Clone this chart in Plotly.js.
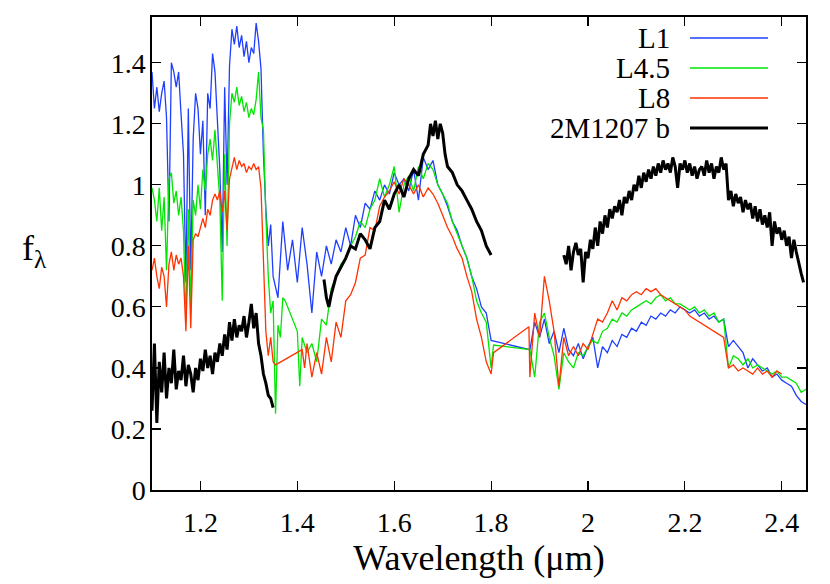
<!DOCTYPE html>
<html>
<head>
<meta charset="utf-8">
<script src="https://cdn.plot.ly/plotly-3.0.1.min.js"></script>
<style>
html,body{margin:0;padding:0;background:#fff;}
#chart{width:830px;height:584px;}
</style>
</head>
<body>
<div id="chart"></div>
<script>
// ---- Wavelength grids (micron) ----
const wlJ = [1.100,1.105,1.110,1.115,1.120,1.125,1.130,1.135,1.140,1.145,
             1.150,1.155,1.160,1.165,1.170,1.175,1.180,1.185,1.190,1.195,
             1.200,1.205,1.210,1.215,1.220,1.225,1.230,1.235,1.240,1.245,
             1.250,1.255,1.260,1.265,1.270,1.275,1.280,1.285,1.290,1.295,
             1.300,1.305,1.310,1.315,1.320,1.325,1.330,1.335,1.340,1.345,
             1.350];
const wlH = [1.36,1.37,1.38,1.39,1.40,1.41,1.42,1.43,1.44,1.45,
             1.46,1.47,1.48,1.49,1.50,1.51,1.52,1.53,1.54,1.55,
             1.56,1.57,1.58,1.59,1.60,1.61,1.62,1.63,1.64,1.65,
             1.66,1.67,1.68,1.69,1.70,1.71,1.72,1.73,1.74,1.75,
             1.76,1.77,1.78,1.79,1.80];
const wlH2 = [1.42,1.43,1.44,1.45,1.46,1.47,1.48,1.49,1.50,1.51,
              1.52,1.53,1.54,1.55,1.56,1.57,1.58,1.59,1.60,1.61,
              1.62,1.63,1.64,1.65,1.66,1.67,1.68,1.69,1.70,1.71,
              1.72,1.73,1.74,1.75,1.76,1.77,1.78,1.79,1.80];
const wlK = [1.88,1.89,1.90,1.91,1.92,1.93,1.94,1.95,1.96,1.97,
             1.98,1.99,2.00,2.01,2.02,2.03,2.04,2.05,2.06,2.07,
             2.08,2.09,2.10,2.11,2.12,2.13,2.14,2.15,2.16,2.17,
             2.18,2.19,2.20,2.21,2.22,2.23,2.24,2.25,2.26,2.27,
             2.28,2.29,2.30,2.31,2.32,2.33,2.34,2.35,2.36,2.37,
             2.38,2.39,2.40,2.41,2.42,2.43,2.44,2.45];
const wlKred = [1.88,1.89,1.90,1.91,1.92,1.93,1.94,1.95,1.96,1.97,
                1.98,1.99,2.00,2.01,2.02,2.03,2.04,2.05,2.06,2.07,
                2.08,2.09,2.10,2.11,2.12,2.13,2.14,2.15,2.16,2.17,
                2.18,2.19,2.20,2.21,2.22,2.23,2.24,2.25,2.26,2.27,
                2.28,2.29,2.30,2.31,2.32,2.33,2.34,2.35,2.36,2.37,
                2.38,2.39,2.40];
const wlGreenGap = [1.355,1.360,1.365,1.370,1.375,1.400,1.405,1.410];
const wlRedGap = [1.355,1.410,1.415];
const wlBlackH = [1.455,1.46,1.465,1.47,1.48,1.49,1.50,1.51,1.52,1.53,
                  1.54,1.55,1.56,1.57,1.58,1.59,1.60,1.61,1.62,1.63,
                  1.64,1.65,1.66,1.67,1.675,1.68,1.685,1.69,1.695,1.70,
                  1.705,1.71,1.72,1.73,1.74,1.75,1.76,1.77,1.78,1.79,1.80];
const wlBlackK = [1.950,1.955,1.960,1.965,1.970,1.975,1.980,1.985,1.990,1.995,
                  2.000,2.005,2.010,2.015,2.020,2.025,2.030,2.035,2.040,2.045,
                  2.050,2.055,2.060,2.065,2.070,2.075,2.080,2.085,2.090,2.095,
                  2.100,2.105,2.110,2.115,2.120,2.125,2.130,2.135,2.140,2.145,
                  2.150,2.155,2.160,2.165,2.170,2.175,2.180,2.185,2.190,2.195,
                  2.200,2.205,2.210,2.215,2.220,2.225,2.230,2.235,2.240,2.245,
                  2.250,2.255,2.260,2.265,2.270,2.275,2.280,2.285,2.290,2.295,
                  2.300,2.305,2.310,2.315,2.320,2.325,2.330,2.335,2.340,2.345,
                  2.350,2.355,2.360,2.365,2.370,2.375,2.380,2.385,2.390,2.395,
                  2.400,2.405,2.410,2.415,2.420,2.425,2.430,2.435,2.440,2.445];

// ---- L1 (blue) ----
const l1J = [1.37,1.25,1.32,1.24,1.30,1.34,1.22,0.88,1.40,1.37,
             1.32,1.37,1.23,1.10,0.68,1.25,0.72,1.15,1.30,1.25,
             1.10,1.21,0.90,1.30,1.25,1.43,1.37,1.20,1.05,0.78,
             1.32,1.00,1.39,1.51,1.46,1.52,1.45,1.49,1.42,1.47,
             1.40,1.45,1.43,1.53,1.47,1.38,1.10,0.92,0.80,0.87,
             0.70];
const l1H = [0.63,0.88,0.72,0.82,0.68,0.86,0.74,0.58,0.78,0.70,
             0.80,0.74,0.82,0.78,0.86,0.80,0.90,0.86,0.94,0.92,
             0.98,0.95,1.00,0.97,1.04,1.00,1.02,0.98,1.05,0.95,
             1.09,1.05,1.08,1.00,0.97,0.93,0.88,0.85,0.80,0.76,
             0.70,0.66,0.60,0.58,0.49];
const l1K = [0.46,0.55,0.50,0.56,0.48,0.52,0.45,0.53,0.46,0.44,
             0.48,0.43,0.47,0.50,0.40,0.47,0.45,0.49,0.47,0.51,
             0.50,0.53,0.52,0.55,0.54,0.57,0.56,0.58,0.57,0.59,
             0.58,0.60,0.59,0.58,0.59,0.57,0.58,0.56,0.57,0.55,
             0.56,0.47,0.49,0.47,0.45,0.40,0.43,0.41,0.39,0.40,
             0.37,0.38,0.36,0.35,0.34,0.31,0.29,0.28];

// ---- L4.5 (green) ----
const l45J = [0.99,0.95,0.88,0.99,0.85,0.96,0.72,1.02,1.04,0.94,
              0.98,0.90,0.96,0.85,0.55,0.92,0.60,0.95,0.90,1.00,
              0.92,1.05,0.98,1.10,1.15,1.08,1.18,1.05,0.95,0.62,
              1.10,0.80,1.20,1.30,1.27,1.32,1.26,1.29,1.24,1.27,
              1.22,1.25,1.23,1.28,1.37,1.22,1.18,0.90,0.70,0.58,
              0.62];
const l45Gap = [0.25,0.54,0.50,0.63,0.62,0.52,0.34,0.50];
const l45H = [0.45,0.48,0.42,0.56,0.54,0.66,0.70,0.74,0.76,0.80,
              0.83,0.88,0.86,0.92,0.95,1.02,0.96,1.00,1.06,0.91,
              1.00,1.03,0.98,1.06,1.02,1.07,1.05,1.00,0.97,0.94,
              0.88,0.84,0.80,0.76,0.70,0.62,0.58,0.55,0.40];
const l45K = [0.46,0.37,0.55,0.58,0.50,0.44,0.33,0.45,0.42,0.40,
              0.45,0.44,0.47,0.49,0.48,0.52,0.53,0.56,0.55,0.58,
              0.57,0.59,0.60,0.61,0.62,0.61,0.63,0.64,0.62,0.63,
              0.61,0.61,0.60,0.59,0.60,0.58,0.59,0.57,0.58,0.55,
              0.56,0.40,0.44,0.43,0.41,0.43,0.40,0.41,0.40,0.39,
              0.38,0.39,0.37,0.37,0.36,0.35,0.32,0.33];

// ---- L8 (red) ----
const l8J = [0.72,0.76,0.70,0.66,0.73,0.70,0.60,0.74,0.78,0.72,
             0.77,0.74,0.76,0.70,0.52,0.80,0.53,0.82,0.84,0.83,
             0.86,0.89,0.86,0.92,0.90,0.95,0.97,0.95,0.98,0.91,
             0.98,0.85,1.02,1.06,1.09,1.05,1.08,1.06,1.07,1.04,
             1.06,1.05,1.07,1.05,1.06,0.99,0.78,0.52,0.44,0.50,
             0.42];
const l8Gap = [0.41,0.46,0.40];
const l8H = [0.48,0.37,0.45,0.38,0.50,0.42,0.55,0.50,0.62,0.64,
             0.68,0.76,0.77,0.86,0.85,0.93,0.96,0.98,1.01,0.97,
             1.02,1.00,0.97,1.00,0.96,0.99,0.97,0.94,0.90,0.86,
             0.83,0.79,0.76,0.70,0.65,0.56,0.50,0.42,0.38];
const l8Bridge = [0.45,0.535];
const wlRedBridge = [1.805,1.878];
const l8K = [0.37,0.58,0.50,0.70,0.62,0.52,0.34,0.50,0.44,0.47,
             0.44,0.48,0.46,0.51,0.56,0.55,0.58,0.62,0.59,0.63,
             0.62,0.64,0.65,0.64,0.66,0.65,0.66,0.64,0.63,0.62,
             0.61,0.60,0.59,0.57,0.56,0.55,0.54,0.53,0.52,0.51,
             0.50,0.40,0.41,0.39,0.40,0.39,0.38,0.40,0.38,0.39,
             0.37,0.39,0.38];

// ---- 2M1207 b (black) ----
const objJ = [0.26,0.48,0.22,0.42,0.32,0.45,0.30,0.40,0.35,0.46,
              0.33,0.39,0.36,0.44,0.34,0.41,0.38,0.32,0.40,0.36,
              0.43,0.39,0.46,0.40,0.44,0.38,0.45,0.42,0.48,0.44,
              0.51,0.46,0.55,0.49,0.56,0.50,0.54,0.52,0.57,0.50,
              0.55,0.61,0.53,0.58,0.48,0.44,0.38,0.35,0.31,0.30,
              0.27];
const objH = [0.69,0.63,0.60,0.64,0.70,0.73,0.76,0.80,0.79,0.84,
              0.82,0.79,0.86,0.88,0.95,0.92,0.97,1.00,0.96,1.02,
              1.05,1.03,1.10,1.13,1.20,1.16,1.21,1.15,1.20,1.17,
              1.10,1.06,1.04,1.00,0.98,0.95,0.92,0.88,0.85,0.80,0.77];
const objK = [0.77,0.74,0.80,0.72,0.78,0.81,0.77,0.79,0.68,0.78,
              0.76,0.82,0.79,0.86,0.80,0.88,0.84,0.90,0.86,0.92,
              0.89,0.93,0.91,0.95,0.90,0.96,0.94,0.98,0.95,1.00,
              0.98,1.03,0.99,1.04,1.01,1.05,1.02,1.06,1.03,1.07,
              1.04,1.08,1.05,1.07,1.04,1.09,1.06,0.99,1.07,1.05,
              1.08,1.04,1.07,1.03,1.06,1.02,1.05,1.06,1.03,1.08,
              1.04,1.07,1.02,1.06,1.04,1.09,1.05,1.07,0.95,0.98,
              0.93,0.97,0.94,0.96,0.91,0.95,0.92,0.94,0.89,0.93,
              0.88,0.92,0.87,0.90,0.86,0.91,0.80,0.88,0.84,0.86,
              0.82,0.85,0.80,0.83,0.76,0.82,0.78,0.74,0.71,0.68];

const seriesNames = ['L1','L4.5','L8','2M1207 b'];
const seriesColors = ['#1f3fff','#00e600','#ff3200','#000000'];
const xTicks = [1.2,1.4,1.6,1.8,2.0,2.2,2.4];
const xTickText = ['1.2','1.4','1.6','1.8','2','2.2','2.4'];
const yTicks = [0,0.2,0.4,0.6,0.8,1.0,1.2,1.4];
const yTickText = ['0','0.2','0.4','0.6','0.8','1','1.2','1.4'];

const FONT = 'Liberation Serif';

const traces = [
  {x: wlJ.concat(wlH, wlK), y: l1J.concat(l1H, l1K),
   mode:'lines', line:{color:seriesColors[0], width:1.3}, name:seriesNames[0]},
  {x: wlJ.concat(wlGreenGap, wlH2, [1.805], wlK), y: l45J.concat(l45Gap, l45H, [0.475], l45K),
   mode:'lines', line:{color:seriesColors[1], width:1.3}, name:seriesNames[1]},
  {x: wlJ.concat(wlRedGap, wlH2, wlRedBridge, wlKred), y: l8J.concat(l8Gap, l8H, l8Bridge, l8K),
   mode:'lines', line:{color:seriesColors[2], width:1.3}, name:seriesNames[2]},
  {x: wlJ.concat([null], wlBlackH, [null], wlBlackK), y: objJ.concat([null], objH, [null], objK),
   mode:'lines', connectgaps:false, line:{color:seriesColors[3], width:3}, name:seriesNames[3]}
];

// legend drawn gnuplot-style: text right-aligned, sample line to the right
const legendRowsPx = [38, 68, 98, 128];
const plotL = 152, plotR = 806, plotT = 17, plotB = 490;
const pw = plotR - plotL, ph = plotB - plotT;
const annotations = [];
const shapes = [];
seriesNames.forEach((n, i) => {
  const yp = (plotB - legendRowsPx[i]) / ph;
  annotations.push({xref:'paper', yref:'paper', x:(672 - plotL)/pw, y:yp, xanchor:'right', yanchor:'middle',
    text:n, showarrow:false, font:{family:FONT, size:29, color:'#000'}});
  shapes.push({type:'line', xref:'paper', yref:'paper', x0:(690 - plotL)/pw, x1:(768 - plotL)/pw, y0:yp, y1:yp,
    line:{color:seriesColors[i], width: i === 3 ? 3 : 1.5}});
});
annotations.push({xref:'paper', yref:'paper', x:(34 - plotL)/pw, y:(plotB - 250)/ph, xanchor:'center', yanchor:'middle',
  text:'f<sub>λ</sub>', showarrow:false, font:{family:FONT, size:36, color:'#000'}});

const layout = {
  width:830, height:584,
  margin:{l:plotL, r:830 - plotR, t:plotT, b:584 - plotB, pad:0},
  paper_bgcolor:'#fff', plot_bgcolor:'#fff',
  showlegend:false,
  font:{family:FONT, color:'#000'},
  xaxis:{range:[1.1,2.45], tickvals:xTicks, ticktext:xTickText, ticks:'inside', ticklen:9, tickwidth:1.2,
    tickcolor:'#000', showline:true, linecolor:'#000', linewidth:1.6, mirror:'ticks', showgrid:false, zeroline:false,
    tickfont:{family:FONT, size:28, color:'#000'}, ticklabelstandoff:7,
    title:{text:'Wavelength (μm)', font:{family:FONT, size:36, color:'#000'}, standoff:2}},
  yaxis:{range:[0,1.55], tickvals:yTicks, ticktext:yTickText, ticks:'inside', ticklen:9, tickwidth:1.2,
    tickcolor:'#000', showline:true, linecolor:'#000', linewidth:1.6, mirror:'ticks', showgrid:false, zeroline:false,
    tickfont:{family:FONT, size:28, color:'#000'}, ticklabelstandoff:-1},
  annotations: annotations,
  shapes: shapes
};

Plotly.newPlot('chart', traces, layout, {displayModeBar:false, staticPlot:true});
</script>
</body>
</html>
